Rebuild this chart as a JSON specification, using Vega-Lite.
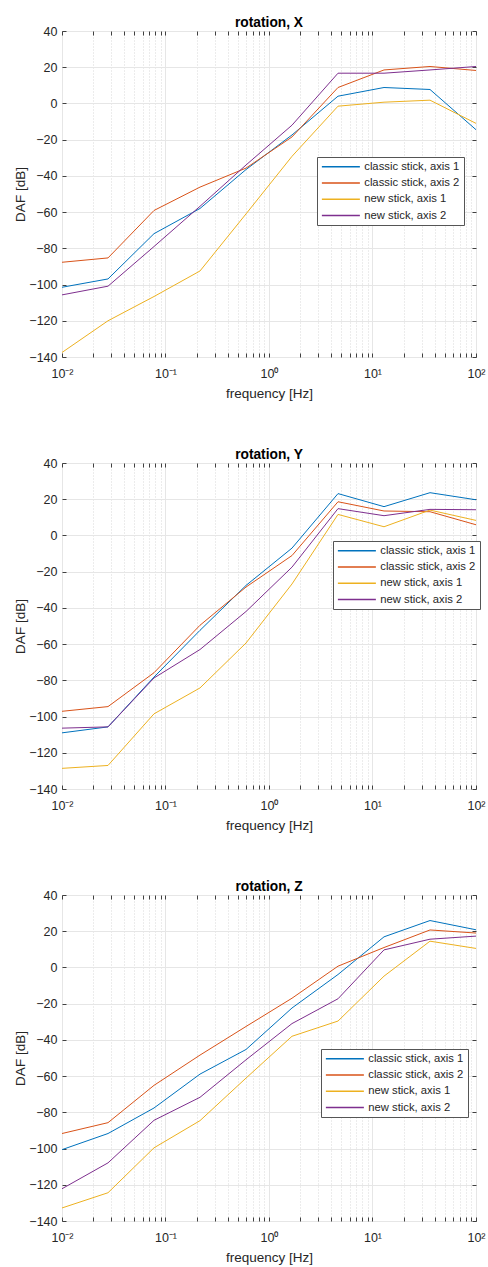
{
  "$schema": "https://vega.github.io/schema/vega-lite/v6.json",
  "padding": {"left": 12, "top": 15, "right": 0, "bottom": 0},
  "background": "white",
  "config": {
    "font": "Liberation Sans",
    "view": {"stroke": "#404040", "strokeWidth": 1},
    "axis": {
      "labelFontSize": 12.5,
      "labelColor": "#262626",
      "labelFont": "Liberation Sans",
      "labelFlush": false,
      "titleFontSize": 13.5,
      "titleColor": "#262626",
      "titleFont": "Liberation Sans",
      "titleFontWeight": "normal",
      "tickColor": "#404040",
      "gridColor": "#e6e6e6",
      "gridWidth": 1,
      "minExtent": 0
    },
    "title": {"fontSize": 13.75, "fontWeight": "bold", "color": "#000000", "font": "Liberation Sans", "offset": -5, "anchor": "middle"},
    "legend": {
      "labelFontSize": 11.25,
      "labelColor": "#262626",
      "labelFont": "Liberation Sans",
      "fillColor": "#ffffff",
      "strokeColor": "#555555",
      "padding": 4,
      "symbolType": "M-1,0H7",
      "symbolSize": 90.25,
      "symbolStrokeWidth": 1.5,
      "rowPadding": 4.3,
      "labelOffset": 32
    }
  },
  "data": {"values": [
    {"p": "X", "s": "classic stick, axis 1", "f": 0.01, "v": -101.5},
    {"p": "X", "s": "classic stick, axis 1", "f": 0.02783, "v": -96.9},
    {"p": "X", "s": "classic stick, axis 1", "f": 0.07743, "v": -71.9},
    {"p": "X", "s": "classic stick, axis 1", "f": 0.2154, "v": -58},
    {"p": "X", "s": "classic stick, axis 1", "f": 0.5995, "v": -36.5},
    {"p": "X", "s": "classic stick, axis 1", "f": 1.668, "v": -17.4},
    {"p": "X", "s": "classic stick, axis 1", "f": 4.642, "v": 4},
    {"p": "X", "s": "classic stick, axis 1", "f": 12.92, "v": 8.8},
    {"p": "X", "s": "classic stick, axis 1", "f": 35.94, "v": 7.7},
    {"p": "X", "s": "classic stick, axis 1", "f": 100, "v": -14.5},
    {"p": "X", "s": "classic stick, axis 2", "f": 0.01, "v": -87.7},
    {"p": "X", "s": "classic stick, axis 2", "f": 0.02783, "v": -85.3},
    {"p": "X", "s": "classic stick, axis 2", "f": 0.07743, "v": -59.1},
    {"p": "X", "s": "classic stick, axis 2", "f": 0.2154, "v": -46.2},
    {"p": "X", "s": "classic stick, axis 2", "f": 0.5995, "v": -35.7},
    {"p": "X", "s": "classic stick, axis 2", "f": 1.668, "v": -18.5},
    {"p": "X", "s": "classic stick, axis 2", "f": 4.642, "v": 8.8},
    {"p": "X", "s": "classic stick, axis 2", "f": 12.92, "v": 18.5},
    {"p": "X", "s": "classic stick, axis 2", "f": 35.94, "v": 20.4},
    {"p": "X", "s": "classic stick, axis 2", "f": 100, "v": 18.2},
    {"p": "X", "s": "new stick, axis 1", "f": 0.01, "v": -137.5},
    {"p": "X", "s": "new stick, axis 1", "f": 0.02783, "v": -120},
    {"p": "X", "s": "new stick, axis 1", "f": 0.07743, "v": -106.6},
    {"p": "X", "s": "new stick, axis 1", "f": 0.2154, "v": -92.5},
    {"p": "X", "s": "new stick, axis 1", "f": 0.5995, "v": -61},
    {"p": "X", "s": "new stick, axis 1", "f": 1.668, "v": -29.2},
    {"p": "X", "s": "new stick, axis 1", "f": 4.642, "v": -1.5},
    {"p": "X", "s": "new stick, axis 1", "f": 12.92, "v": 0.7},
    {"p": "X", "s": "new stick, axis 1", "f": 35.94, "v": 1.8},
    {"p": "X", "s": "new stick, axis 1", "f": 100, "v": -11},
    {"p": "X", "s": "new stick, axis 2", "f": 0.01, "v": -105.7},
    {"p": "X", "s": "new stick, axis 2", "f": 0.02783, "v": -100.9},
    {"p": "X", "s": "new stick, axis 2", "f": 0.07743, "v": -79},
    {"p": "X", "s": "new stick, axis 2", "f": 0.2154, "v": -56.8},
    {"p": "X", "s": "new stick, axis 2", "f": 0.5995, "v": -34},
    {"p": "X", "s": "new stick, axis 2", "f": 1.668, "v": -12},
    {"p": "X", "s": "new stick, axis 2", "f": 4.642, "v": 16.7},
    {"p": "X", "s": "new stick, axis 2", "f": 12.92, "v": 16.7},
    {"p": "X", "s": "new stick, axis 2", "f": 35.94, "v": 18.5},
    {"p": "X", "s": "new stick, axis 2", "f": 100, "v": 20.4},
    {"p": "Y", "s": "classic stick, axis 1", "f": 0.01, "v": -109},
    {"p": "Y", "s": "classic stick, axis 1", "f": 0.02783, "v": -105.7},
    {"p": "Y", "s": "classic stick, axis 1", "f": 0.07743, "v": -78.2},
    {"p": "Y", "s": "classic stick, axis 1", "f": 0.2154, "v": -52.4},
    {"p": "Y", "s": "classic stick, axis 1", "f": 0.5995, "v": -27.6},
    {"p": "Y", "s": "classic stick, axis 1", "f": 1.668, "v": -7},
    {"p": "Y", "s": "classic stick, axis 1", "f": 4.642, "v": 23.1},
    {"p": "Y", "s": "classic stick, axis 1", "f": 12.92, "v": 15.9},
    {"p": "Y", "s": "classic stick, axis 1", "f": 35.94, "v": 23.6},
    {"p": "Y", "s": "classic stick, axis 1", "f": 100, "v": 19.7},
    {"p": "Y", "s": "classic stick, axis 2", "f": 0.01, "v": -97.1},
    {"p": "Y", "s": "classic stick, axis 2", "f": 0.02783, "v": -94.5},
    {"p": "Y", "s": "classic stick, axis 2", "f": 0.07743, "v": -75.8},
    {"p": "Y", "s": "classic stick, axis 2", "f": 0.2154, "v": -49.6},
    {"p": "Y", "s": "classic stick, axis 2", "f": 0.5995, "v": -28.5},
    {"p": "Y", "s": "classic stick, axis 2", "f": 1.668, "v": -11.1},
    {"p": "Y", "s": "classic stick, axis 2", "f": 4.642, "v": 18.6},
    {"p": "Y", "s": "classic stick, axis 2", "f": 12.92, "v": 13.5},
    {"p": "Y", "s": "classic stick, axis 2", "f": 35.94, "v": 13.1},
    {"p": "Y", "s": "classic stick, axis 2", "f": 100, "v": 5.9},
    {"p": "Y", "s": "new stick, axis 1", "f": 0.01, "v": -128.6},
    {"p": "Y", "s": "new stick, axis 1", "f": 0.02783, "v": -127},
    {"p": "Y", "s": "new stick, axis 1", "f": 0.07743, "v": -98.5},
    {"p": "Y", "s": "new stick, axis 1", "f": 0.2154, "v": -84.2},
    {"p": "Y", "s": "new stick, axis 1", "f": 0.5995, "v": -59.4},
    {"p": "Y", "s": "new stick, axis 1", "f": 1.668, "v": -26.8},
    {"p": "Y", "s": "new stick, axis 1", "f": 4.642, "v": 11.6},
    {"p": "Y", "s": "new stick, axis 1", "f": 12.92, "v": 4.8},
    {"p": "Y", "s": "new stick, axis 1", "f": 35.94, "v": 14},
    {"p": "Y", "s": "new stick, axis 1", "f": 100, "v": 8.3},
    {"p": "Y", "s": "new stick, axis 2", "f": 0.01, "v": -106.4},
    {"p": "Y", "s": "new stick, axis 2", "f": 0.02783, "v": -105.7},
    {"p": "Y", "s": "new stick, axis 2", "f": 0.07743, "v": -78.7},
    {"p": "Y", "s": "new stick, axis 2", "f": 0.2154, "v": -63},
    {"p": "Y", "s": "new stick, axis 2", "f": 0.5995, "v": -42},
    {"p": "Y", "s": "new stick, axis 2", "f": 1.668, "v": -17.5},
    {"p": "Y", "s": "new stick, axis 2", "f": 4.642, "v": 14.8},
    {"p": "Y", "s": "new stick, axis 2", "f": 12.92, "v": 10.9},
    {"p": "Y", "s": "new stick, axis 2", "f": 35.94, "v": 14.4},
    {"p": "Y", "s": "new stick, axis 2", "f": 100, "v": 14.2},
    {"p": "Z", "s": "classic stick, axis 1", "f": 0.01, "v": -100.6},
    {"p": "Z", "s": "classic stick, axis 1", "f": 0.02783, "v": -91.7},
    {"p": "Z", "s": "classic stick, axis 1", "f": 0.07743, "v": -77.6},
    {"p": "Z", "s": "classic stick, axis 1", "f": 0.2154, "v": -58.9},
    {"p": "Z", "s": "classic stick, axis 1", "f": 0.5995, "v": -45.3},
    {"p": "Z", "s": "classic stick, axis 1", "f": 1.668, "v": -22.4},
    {"p": "Z", "s": "classic stick, axis 1", "f": 4.642, "v": -3.9},
    {"p": "Z", "s": "classic stick, axis 1", "f": 12.92, "v": 16.9},
    {"p": "Z", "s": "classic stick, axis 1", "f": 35.94, "v": 25.9},
    {"p": "Z", "s": "classic stick, axis 1", "f": 100, "v": 20.8},
    {"p": "Z", "s": "classic stick, axis 2", "f": 0.01, "v": -91.7},
    {"p": "Z", "s": "classic stick, axis 2", "f": 0.02783, "v": -85.7},
    {"p": "Z", "s": "classic stick, axis 2", "f": 0.07743, "v": -65.1},
    {"p": "Z", "s": "classic stick, axis 2", "f": 0.2154, "v": -48.4},
    {"p": "Z", "s": "classic stick, axis 2", "f": 0.5995, "v": -32.6},
    {"p": "Z", "s": "classic stick, axis 2", "f": 1.668, "v": -17},
    {"p": "Z", "s": "classic stick, axis 2", "f": 4.642, "v": 0.7},
    {"p": "Z", "s": "classic stick, axis 2", "f": 12.92, "v": 11},
    {"p": "Z", "s": "classic stick, axis 2", "f": 35.94, "v": 20.7},
    {"p": "Z", "s": "classic stick, axis 2", "f": 100, "v": 19},
    {"p": "Z", "s": "new stick, axis 1", "f": 0.01, "v": -132.8},
    {"p": "Z", "s": "new stick, axis 1", "f": 0.02783, "v": -124.4},
    {"p": "Z", "s": "new stick, axis 1", "f": 0.07743, "v": -99.6},
    {"p": "Z", "s": "new stick, axis 1", "f": 0.2154, "v": -84.6},
    {"p": "Z", "s": "new stick, axis 1", "f": 0.5995, "v": -61.1},
    {"p": "Z", "s": "new stick, axis 1", "f": 1.668, "v": -38},
    {"p": "Z", "s": "new stick, axis 1", "f": 4.642, "v": -29.6},
    {"p": "Z", "s": "new stick, axis 1", "f": 12.92, "v": -4.8},
    {"p": "Z", "s": "new stick, axis 1", "f": 35.94, "v": 14.5},
    {"p": "Z", "s": "new stick, axis 1", "f": 100, "v": 10.5},
    {"p": "Z", "s": "new stick, axis 2", "f": 0.01, "v": -122.2},
    {"p": "Z", "s": "new stick, axis 2", "f": 0.02783, "v": -107.9},
    {"p": "Z", "s": "new stick, axis 2", "f": 0.07743, "v": -84.4},
    {"p": "Z", "s": "new stick, axis 2", "f": 0.2154, "v": -71.7},
    {"p": "Z", "s": "new stick, axis 2", "f": 0.5995, "v": -51},
    {"p": "Z", "s": "new stick, axis 2", "f": 1.668, "v": -31},
    {"p": "Z", "s": "new stick, axis 2", "f": 4.642, "v": -17.3},
    {"p": "Z", "s": "new stick, axis 2", "f": 12.92, "v": 9.7},
    {"p": "Z", "s": "new stick, axis 2", "f": 35.94, "v": 15.6},
    {"p": "Z", "s": "new stick, axis 2", "f": 100, "v": 17.3}
  ]},
  "spacing": 46,
  "resolve": {"legend": {"color": "independent"}},
  "vconcat": [
    {
      "title": "rotation, X",
      "width": 414, "height": 326,
      "transform": [{"filter": "datum.p == 'X'"}],
      "resolve": {"axis": {"x": "independent", "y": "independent"}},
      "layer": [
        {"mark": {"type": "line", "opacity": 0}, "encoding": {
          "detail": {"field": "s"},
          "x": {"field": "f", "type": "quantitative", "scale": {"type": "log", "domain": [0.01, 100], "nice": false}, "axis": {"orient": "bottom", "values": [0.02,0.03,0.04,0.05,0.06,0.07,0.08,0.09,0.2,0.3,0.4,0.5,0.6,0.7,0.8,0.9,2,3,4,5,6,7,8,9,20,30,40,50,60,70,80,90], "grid": true, "gridDash": [1, 2], "gridColor": "#d9d9d9", "labels": false, "ticks": true, "tickSize": -4, "domain": false, "title": null}},
          "y": {"field": "v", "type": "quantitative", "scale": {"domain": [-140, 40], "nice": false, "zero": false}, "axis": {"orient": "left", "values": [-140,-120,-100,-80,-60,-40,-20,0,20,40], "grid": true, "ticks": false, "domain": false, "labelPadding": 5, "titlePadding": 1.5, "title": "DAF [dB]"}}
        }},
        {"mark": {"type": "line", "opacity": 0}, "encoding": {
          "detail": {"field": "s"},
          "x": {"field": "f", "type": "quantitative", "scale": {"type": "log", "domain": [0.01, 100], "nice": false}, "axis": {"orient": "bottom", "values": [0.01, 0.1, 1, 10, 100], "grid": true, "ticks": false, "domain": false, "labelPadding": 10, "titlePadding": 7, "labelExpr": "datum.value < 0.05 ? '10⁻²' : datum.value < 0.5 ? '10⁻¹' : datum.value < 5 ? '10⁰' : datum.value < 50 ? '10¹' : '10²'", "title": "frequency [Hz]"}},
          "y": {"field": "v", "type": "quantitative", "scale": {"domain": [-140, 40], "nice": false, "zero": false}, "axis": {"orient": "left", "values": [-140,-120,-100,-80,-60,-40,-20,0,20,40], "grid": false, "labels": false, "ticks": true, "tickSize": -4, "domain": false, "title": null}}
        }},
        {"mark": {"type": "line", "opacity": 0}, "encoding": {
          "detail": {"field": "s"},
          "x": {"field": "f", "type": "quantitative", "scale": {"type": "log", "domain": [0.01, 100], "nice": false}, "axis": {"orient": "bottom", "values": [0.01, 0.1, 1, 10, 100], "grid": false, "labels": false, "ticks": true, "tickSize": -4, "domain": false, "title": null}},
          "y": {"field": "v", "type": "quantitative", "scale": {"domain": [-140, 40], "nice": false, "zero": false}, "axis": {"orient": "right", "values": [-140,-120,-100,-80,-60,-40,-20,0,20,40], "grid": false, "labels": false, "ticks": true, "tickSize": -4, "domain": false, "title": null}}
        }},
        {"mark": {"type": "line", "opacity": 0}, "encoding": {
          "detail": {"field": "s"},
          "x": {"field": "f", "type": "quantitative", "scale": {"type": "log", "domain": [0.01, 100], "nice": false}, "axis": {"orient": "top", "values": [0.01, 0.1, 1, 10, 100], "grid": false, "labels": false, "ticks": true, "tickSize": -4, "domain": false, "title": null}},
          "y": {"field": "v", "type": "quantitative", "scale": {"domain": [-140, 40], "nice": false, "zero": false}, "axis": null}
        }},
        {"mark": {"type": "line", "strokeWidth": 1}, "encoding": {
          "x": {"field": "f", "type": "quantitative", "scale": {"type": "log", "domain": [0.01, 100], "nice": false}, "axis": {"orient": "top", "values": [0.02,0.03,0.04,0.05,0.06,0.07,0.08,0.09,0.2,0.3,0.4,0.5,0.6,0.7,0.8,0.9,2,3,4,5,6,7,8,9,20,30,40,50,60,70,80,90], "grid": false, "labels": false, "ticks": true, "tickSize": -4, "domain": false, "title": null}},
          "y": {"field": "v", "type": "quantitative", "scale": {"domain": [-140, 40], "nice": false, "zero": false}, "axis": null},
          "color": {"field": "s", "type": "nominal", "scale": {"domain": ["classic stick, axis 1", "classic stick, axis 2", "new stick, axis 1", "new stick, axis 2"], "range": ["#0072BD", "#D95319", "#EDB120", "#7E2F8E"]}, "legend": {"orient": "none", "legendX": 255, "legendY": 126, "title": null}}
        }}
      ]
    },
    {
      "title": "rotation, Y",
      "width": 414, "height": 326,
      "transform": [{"filter": "datum.p == 'Y'"}],
      "resolve": {"axis": {"x": "independent", "y": "independent"}},
      "layer": [
        {"mark": {"type": "line", "opacity": 0}, "encoding": {
          "detail": {"field": "s"},
          "x": {"field": "f", "type": "quantitative", "scale": {"type": "log", "domain": [0.01, 100], "nice": false}, "axis": {"orient": "bottom", "values": [0.02,0.03,0.04,0.05,0.06,0.07,0.08,0.09,0.2,0.3,0.4,0.5,0.6,0.7,0.8,0.9,2,3,4,5,6,7,8,9,20,30,40,50,60,70,80,90], "grid": true, "gridDash": [1, 2], "gridColor": "#d9d9d9", "labels": false, "ticks": true, "tickSize": -4, "domain": false, "title": null}},
          "y": {"field": "v", "type": "quantitative", "scale": {"domain": [-140, 40], "nice": false, "zero": false}, "axis": {"orient": "left", "values": [-140,-120,-100,-80,-60,-40,-20,0,20,40], "grid": true, "ticks": false, "domain": false, "labelPadding": 5, "titlePadding": 1.5, "title": "DAF [dB]"}}
        }},
        {"mark": {"type": "line", "opacity": 0}, "encoding": {
          "detail": {"field": "s"},
          "x": {"field": "f", "type": "quantitative", "scale": {"type": "log", "domain": [0.01, 100], "nice": false}, "axis": {"orient": "bottom", "values": [0.01, 0.1, 1, 10, 100], "grid": true, "ticks": false, "domain": false, "labelPadding": 10, "titlePadding": 7, "labelExpr": "datum.value < 0.05 ? '10⁻²' : datum.value < 0.5 ? '10⁻¹' : datum.value < 5 ? '10⁰' : datum.value < 50 ? '10¹' : '10²'", "title": "frequency [Hz]"}},
          "y": {"field": "v", "type": "quantitative", "scale": {"domain": [-140, 40], "nice": false, "zero": false}, "axis": {"orient": "left", "values": [-140,-120,-100,-80,-60,-40,-20,0,20,40], "grid": false, "labels": false, "ticks": true, "tickSize": -4, "domain": false, "title": null}}
        }},
        {"mark": {"type": "line", "opacity": 0}, "encoding": {
          "detail": {"field": "s"},
          "x": {"field": "f", "type": "quantitative", "scale": {"type": "log", "domain": [0.01, 100], "nice": false}, "axis": {"orient": "bottom", "values": [0.01, 0.1, 1, 10, 100], "grid": false, "labels": false, "ticks": true, "tickSize": -4, "domain": false, "title": null}},
          "y": {"field": "v", "type": "quantitative", "scale": {"domain": [-140, 40], "nice": false, "zero": false}, "axis": {"orient": "right", "values": [-140,-120,-100,-80,-60,-40,-20,0,20,40], "grid": false, "labels": false, "ticks": true, "tickSize": -4, "domain": false, "title": null}}
        }},
        {"mark": {"type": "line", "opacity": 0}, "encoding": {
          "detail": {"field": "s"},
          "x": {"field": "f", "type": "quantitative", "scale": {"type": "log", "domain": [0.01, 100], "nice": false}, "axis": {"orient": "top", "values": [0.01, 0.1, 1, 10, 100], "grid": false, "labels": false, "ticks": true, "tickSize": -4, "domain": false, "title": null}},
          "y": {"field": "v", "type": "quantitative", "scale": {"domain": [-140, 40], "nice": false, "zero": false}, "axis": null}
        }},
        {"mark": {"type": "line", "strokeWidth": 1}, "encoding": {
          "x": {"field": "f", "type": "quantitative", "scale": {"type": "log", "domain": [0.01, 100], "nice": false}, "axis": {"orient": "top", "values": [0.02,0.03,0.04,0.05,0.06,0.07,0.08,0.09,0.2,0.3,0.4,0.5,0.6,0.7,0.8,0.9,2,3,4,5,6,7,8,9,20,30,40,50,60,70,80,90], "grid": false, "labels": false, "ticks": true, "tickSize": -4, "domain": false, "title": null}},
          "y": {"field": "v", "type": "quantitative", "scale": {"domain": [-140, 40], "nice": false, "zero": false}, "axis": null},
          "color": {"field": "s", "type": "nominal", "scale": {"domain": ["classic stick, axis 1", "classic stick, axis 2", "new stick, axis 1", "new stick, axis 2"], "range": ["#0072BD", "#D95319", "#EDB120", "#7E2F8E"]}, "legend": {"orient": "none", "legendX": 271, "legendY": 78, "title": null}}
        }}
      ]
    },
    {
      "title": "rotation, Z",
      "width": 414, "height": 326,
      "transform": [{"filter": "datum.p == 'Z'"}],
      "resolve": {"axis": {"x": "independent", "y": "independent"}},
      "layer": [
        {"mark": {"type": "line", "opacity": 0}, "encoding": {
          "detail": {"field": "s"},
          "x": {"field": "f", "type": "quantitative", "scale": {"type": "log", "domain": [0.01, 100], "nice": false}, "axis": {"orient": "bottom", "values": [0.02,0.03,0.04,0.05,0.06,0.07,0.08,0.09,0.2,0.3,0.4,0.5,0.6,0.7,0.8,0.9,2,3,4,5,6,7,8,9,20,30,40,50,60,70,80,90], "grid": true, "gridDash": [1, 2], "gridColor": "#d9d9d9", "labels": false, "ticks": true, "tickSize": -4, "domain": false, "title": null}},
          "y": {"field": "v", "type": "quantitative", "scale": {"domain": [-140, 40], "nice": false, "zero": false}, "axis": {"orient": "left", "values": [-140,-120,-100,-80,-60,-40,-20,0,20,40], "grid": true, "ticks": false, "domain": false, "labelPadding": 5, "titlePadding": 1.5, "title": "DAF [dB]"}}
        }},
        {"mark": {"type": "line", "opacity": 0}, "encoding": {
          "detail": {"field": "s"},
          "x": {"field": "f", "type": "quantitative", "scale": {"type": "log", "domain": [0.01, 100], "nice": false}, "axis": {"orient": "bottom", "values": [0.01, 0.1, 1, 10, 100], "grid": true, "ticks": false, "domain": false, "labelPadding": 10, "titlePadding": 7, "labelExpr": "datum.value < 0.05 ? '10⁻²' : datum.value < 0.5 ? '10⁻¹' : datum.value < 5 ? '10⁰' : datum.value < 50 ? '10¹' : '10²'", "title": "frequency [Hz]"}},
          "y": {"field": "v", "type": "quantitative", "scale": {"domain": [-140, 40], "nice": false, "zero": false}, "axis": {"orient": "left", "values": [-140,-120,-100,-80,-60,-40,-20,0,20,40], "grid": false, "labels": false, "ticks": true, "tickSize": -4, "domain": false, "title": null}}
        }},
        {"mark": {"type": "line", "opacity": 0}, "encoding": {
          "detail": {"field": "s"},
          "x": {"field": "f", "type": "quantitative", "scale": {"type": "log", "domain": [0.01, 100], "nice": false}, "axis": {"orient": "bottom", "values": [0.01, 0.1, 1, 10, 100], "grid": false, "labels": false, "ticks": true, "tickSize": -4, "domain": false, "title": null}},
          "y": {"field": "v", "type": "quantitative", "scale": {"domain": [-140, 40], "nice": false, "zero": false}, "axis": {"orient": "right", "values": [-140,-120,-100,-80,-60,-40,-20,0,20,40], "grid": false, "labels": false, "ticks": true, "tickSize": -4, "domain": false, "title": null}}
        }},
        {"mark": {"type": "line", "opacity": 0}, "encoding": {
          "detail": {"field": "s"},
          "x": {"field": "f", "type": "quantitative", "scale": {"type": "log", "domain": [0.01, 100], "nice": false}, "axis": {"orient": "top", "values": [0.01, 0.1, 1, 10, 100], "grid": false, "labels": false, "ticks": true, "tickSize": -4, "domain": false, "title": null}},
          "y": {"field": "v", "type": "quantitative", "scale": {"domain": [-140, 40], "nice": false, "zero": false}, "axis": null}
        }},
        {"mark": {"type": "line", "strokeWidth": 1}, "encoding": {
          "x": {"field": "f", "type": "quantitative", "scale": {"type": "log", "domain": [0.01, 100], "nice": false}, "axis": {"orient": "top", "values": [0.02,0.03,0.04,0.05,0.06,0.07,0.08,0.09,0.2,0.3,0.4,0.5,0.6,0.7,0.8,0.9,2,3,4,5,6,7,8,9,20,30,40,50,60,70,80,90], "grid": false, "labels": false, "ticks": true, "tickSize": -4, "domain": false, "title": null}},
          "y": {"field": "v", "type": "quantitative", "scale": {"domain": [-140, 40], "nice": false, "zero": false}, "axis": null},
          "color": {"field": "s", "type": "nominal", "scale": {"domain": ["classic stick, axis 1", "classic stick, axis 2", "new stick, axis 1", "new stick, axis 2"], "range": ["#0072BD", "#D95319", "#EDB120", "#7E2F8E"]}, "legend": {"orient": "none", "legendX": 259, "legendY": 154, "title": null}}
        }}
      ]
    }
  ]
}
